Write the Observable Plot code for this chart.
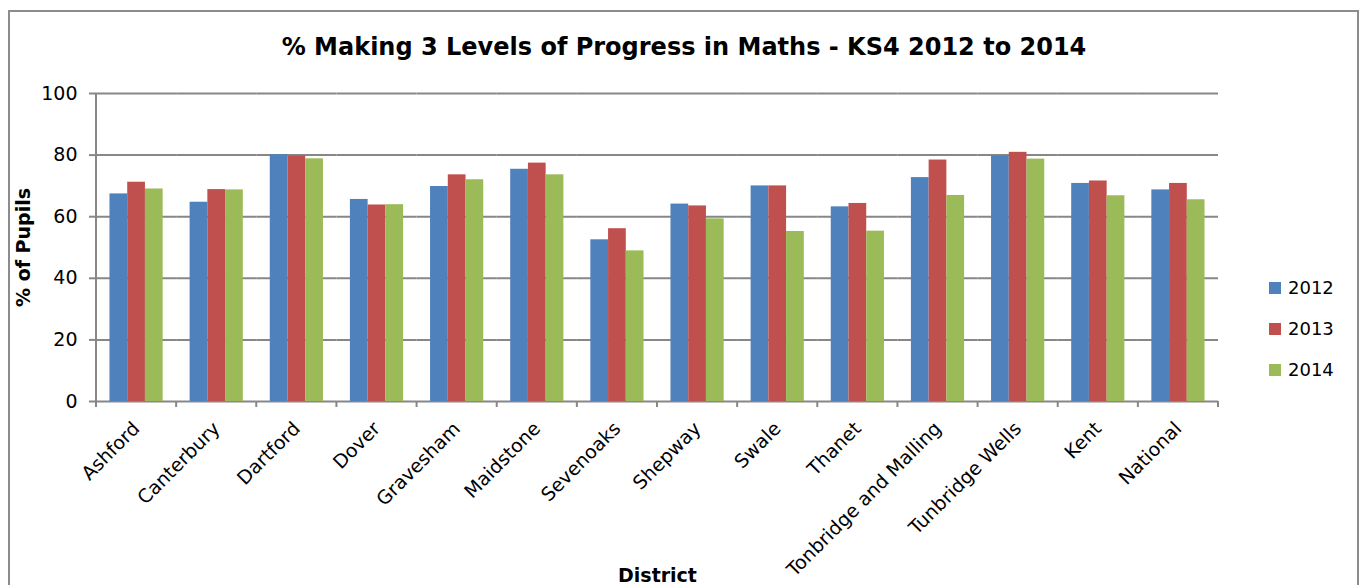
<!DOCTYPE html>
<html><head><meta charset="utf-8">
<script src="https://cdn.jsdelivr.net/npm/d3@7"></script>
<script src="https://cdn.jsdelivr.net/npm/@observablehq/plot@0.6"></script>
<style>
body{margin:0;background:#fff;font-family:"DejaVu Sans",sans-serif;}
#wrap{position:relative;width:1362px;height:585px;overflow:hidden;}
#frame{position:absolute;left:8px;top:10px;width:1351px;height:640px;border:2px solid #8c8c8c;box-sizing:border-box;}
#title{position:relative;height:70px;box-sizing:border-box;padding-top:34px;line-height:26px;text-align:center;font-weight:bold;font-size:24px;padding-left:6px;color:#000;}
#chart{position:relative;}
#legend{position:absolute;left:1269px;top:267px;font-size:18px;color:#000;}
.item{display:flex;align-items:center;height:41px;}
.sw{width:12px;height:12px;margin-right:7px;}
</style></head>
<body>
<div id="wrap">
  <div id="frame"></div>
  <div id="title"></div>
  <div id="chart"></div>
  <div id="legend"></div>
</div>
<script>
const titleText = "% Making 3 Levels of Progress in Maths - KS4 2012 to 2014";
const districts = ["Ashford","Canterbury","Dartford","Dover","Gravesham","Maidstone","Sevenoaks","Shepway","Swale","Thanet","Tonbridge and Malling","Tunbridge Wells","Kent","National"];
const years = ["2012","2013","2014"];
const v2012 = [67.4, 64.7, 80.1, 65.6, 69.8, 75.4, 52.5, 64.1, 70.0, 63.2, 72.7, 79.8, 70.8, 68.7];
const v2013 = [71.2, 68.8, 79.7, 63.8, 73.6, 77.4, 56.1, 63.5, 70.0, 64.3, 78.4, 80.9, 71.6, 70.8];
const v2014 = [69.0, 68.7, 78.8, 63.9, 72.0, 73.6, 48.9, 59.3, 55.2, 55.3, 66.9, 78.7, 66.8, 65.5];
const colors = ["#4F81BD","#C0504D","#9BBB59"];
const yTicks = [0, 20, 40, 60, 80, 100];
const yLabel = "% of Pupils";
const xLabel = "District";

const series = [v2012, v2013, v2014];
const data = districts.flatMap((d, i) => years.map((yr, j) => ({district: d, year: yr, value: series[j][i]})));

document.getElementById("title").textContent = titleText;

const gridColor = "#878787";
const chart = Plot.plot({
  width: 1362, height: 515,
  marginLeft: 96, marginRight: 144, marginTop: 23, marginBottom: 184,
  style: {fontFamily: "DejaVu Sans, sans-serif", fontSize: "19px", color: "#000", background: "transparent"},
  fx: {domain: districts, paddingInner: 0, paddingOuter: 0, round: false},
  x: {domain: years, paddingInner: 0, paddingOuter: 0.76, axis: null, round: false},
  y: {domain: [0, 100]},
  color: {domain: years, range: colors},
  marks: [
    Plot.gridY(yTicks, {stroke: gridColor, strokeOpacity: 1, strokeWidth: 2}),
    Plot.barY(data, {fx: "district", x: "year", y: "value", fill: "year"}),
    Plot.axisY(yTicks, {tickSize: 7, tickPadding: 12, stroke: gridColor, strokeWidth: 2, label: yLabel, labelAnchor: "center", labelOffset: 80}),
    Plot.axisFx({anchor: "bottom", tickSize: 0, tickRotate: -45, tickPadding: 24, label: xLabel, labelAnchor: "center", labelOffset: 180})
  ]
});
document.getElementById("chart").appendChild(chart);

// axis titles: bold, plain text
d3.select(chart).selectAll('g[aria-label="y-axis label"] text').text(yLabel).attr("font-weight", "bold");
d3.select(chart).selectAll('g[aria-label="fx-axis label"] text').text(xLabel).attr("font-weight", "bold");

// axis line and category boundary ticks, from the plot's own scales
const fx = chart.scale("fx");
const y = chart.scale("y");
const svg = d3.select(chart);
const y0 = y.apply(0), y100 = y.apply(100);
const bounds = districts.map(d => fx.apply(d));
bounds.push(fx.apply(districts[districts.length - 1]) + fx.bandwidth);
const g = svg.append("g").attr("stroke", gridColor).attr("stroke-width", 2);
g.append("line").attr("x1", bounds[0]).attr("x2", bounds[0]).attr("y1", y100).attr("y2", y0 + 6);
g.selectAll("line.tk").data(bounds).join("line").attr("class", "tk")
  .attr("x1", d => d).attr("x2", d => d).attr("y1", y0).attr("y2", y0 + 6);

// legend
const legend = d3.select("#legend");
years.forEach((yr, i) => {
  const it = legend.append("div").attr("class", "item");
  it.append("div").attr("class", "sw").style("background", colors[i]);
  it.append("span").text(yr);
});
</script>
</body></html>
